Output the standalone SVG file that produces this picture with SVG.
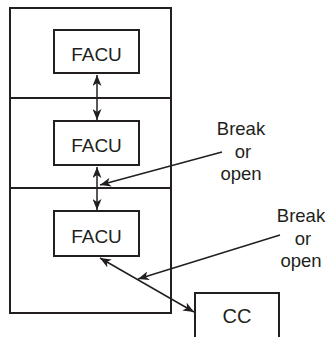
<svg xmlns="http://www.w3.org/2000/svg" width="329" height="337" viewBox="0 0 329 337">
<style>
  .box{fill:#fff;stroke:#231f20;stroke-width:2}
  .frame{fill:none;stroke:#231f20;stroke-width:2}
  .ln{fill:none;stroke:#231f20;stroke-width:1.5}
  .t{font-family:"Liberation Sans",Arial,sans-serif;font-size:19px;fill:#231f20;text-anchor:middle}
  .lbl{font-family:"Liberation Sans",Arial,sans-serif;font-size:18.5px;fill:#231f20;text-anchor:middle}
</style>
<defs>
  <marker id="ah" viewBox="0 0 11 9" markerWidth="11" markerHeight="9" refX="11" refY="4.5" orient="auto-start-reverse" markerUnits="userSpaceOnUse">
    <path d="M0,0 L11,4.5 L0,9 L3,4.5 Z" fill="#231f20"/>
  </marker>
</defs>
<rect width="329" height="337" fill="#fff"/>
<g id="cabinet">
  <rect class="frame" x="10" y="8" width="161" height="305"/>
  <line class="frame" x1="10" y1="98" x2="171" y2="98"/>
  <line class="frame" x1="10" y1="188" x2="171" y2="188"/>
</g>
<g id="facu1">
  <rect class="box" x="54" y="30" width="85" height="43"/>
  <text class="t" x="96.5" y="61">FACU</text>
</g>
<g id="facu2">
  <rect class="box" x="54" y="121" width="85" height="44"/>
  <text class="t" x="96.5" y="152">FACU</text>
</g>
<g id="facu3">
  <rect class="box" x="54" y="211" width="85" height="45"/>
  <text class="t" x="96.5" y="243">FACU</text>
</g>
<g id="cc">
  <path class="frame" d="M195,338 V293 H279 V338"/>
  <text class="t" x="237" y="323" style="font-size:20px">CC</text>
</g>
<g id="label1">
  <text class="lbl" x="241" y="135">Break</text>
  <text class="lbl" x="243" y="158">or</text>
  <text class="lbl" x="241" y="180">open</text>
</g>
<g id="label2">
  <text class="lbl" x="301" y="222">Break</text>
  <text class="lbl" x="303" y="245">or</text>
  <text class="lbl" x="301" y="267">open</text>
</g>
<g id="connectors">
  <line class="ln" x1="97" y1="75" x2="97" y2="120" marker-start="url(#ah)" marker-end="url(#ah)"/>
  <line class="ln" x1="97" y1="167" x2="97" y2="210" marker-start="url(#ah)" marker-end="url(#ah)"/>
  <line class="ln" x1="100" y1="258" x2="194" y2="312" marker-start="url(#ah)" marker-end="url(#ah)"/>
  <line class="ln" x1="222" y1="152" x2="100" y2="185" marker-end="url(#ah)"/>
  <line class="ln" x1="280" y1="235" x2="138" y2="279" marker-end="url(#ah)"/>
</g>
</svg>
